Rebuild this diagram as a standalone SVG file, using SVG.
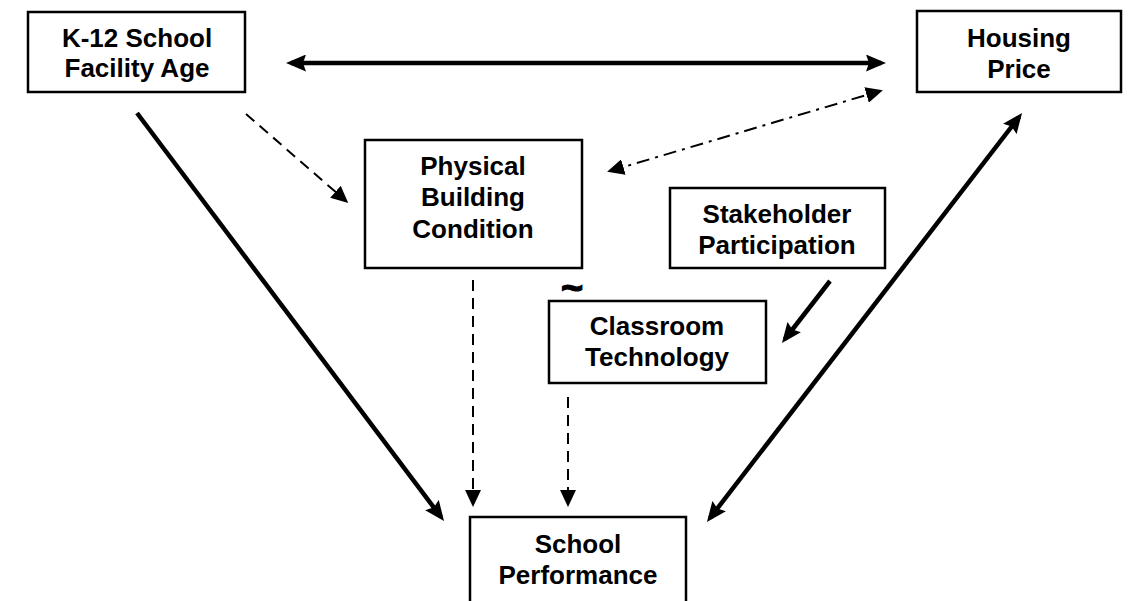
<svg xmlns="http://www.w3.org/2000/svg" width="1134" height="601" viewBox="0 0 1134 601">
<style>
.box{fill:#fff;stroke:#000;stroke-width:2.5}
.lbl{font-family:"Liberation Sans",Arial,sans-serif;font-weight:bold;font-size:26px;fill:#000;text-anchor:middle}
.solid{stroke:#000;stroke-width:4.5;fill:none}
.dash{stroke:#000;stroke-width:2;fill:none;stroke-dasharray:11,7}
.dashdot{stroke:#000;stroke-width:2;fill:none;stroke-dasharray:13,6,3,6}
</style>
<defs>
<marker id="big" markerUnits="userSpaceOnUse" markerWidth="20" markerHeight="17" refX="15" refY="8.5" orient="auto-start-reverse" viewBox="0 0 20 17">
<path d="M0,0 L20,8.5 L0,17 L3,8.5 z" fill="#000"/>
</marker>
<marker id="small" markerUnits="userSpaceOnUse" markerWidth="17" markerHeight="16" refX="14" refY="8" orient="auto-start-reverse" viewBox="0 0 17 16">
<path d="M0,0 L17,8 L0,16 z" fill="#000"/>
</marker>
</defs>
<g id="connectors">
<line class="solid" x1="291" y1="63" x2="881" y2="63" marker-start="url(#big)" marker-end="url(#big)"/>
<line class="solid" x1="137" y1="113" x2="441" y2="517" marker-end="url(#big)"/>
<line class="dash" x1="246" y1="114" x2="346" y2="201" marker-end="url(#small)"/>
<line class="dashdot" x1="610" y1="171" x2="880" y2="91" marker-start="url(#small)" marker-end="url(#small)"/>
<line class="dash" x1="473" y1="280" x2="473" y2="504" marker-end="url(#small)"/>
<line class="dash" x1="568" y1="397" x2="568" y2="504" marker-end="url(#small)"/>
<line class="solid" x1="830" y1="281" x2="785" y2="339" marker-end="url(#big)"/>
<line class="solid" x1="710" y1="518" x2="1019" y2="117" marker-start="url(#big)" marker-end="url(#big)"/>
</g>
<g id="k12">
<rect class="box" x="28" y="12" width="217" height="80"/>
<text class="lbl" x="137" y="47">K-12 School</text>
<text class="lbl" x="137" y="77">Facility Age</text>
</g>
<g id="housing">
<rect class="box" x="917" y="11" width="204" height="81"/>
<text class="lbl" x="1019" y="47">Housing</text>
<text class="lbl" x="1019" y="78">Price</text>
</g>
<g id="physical">
<rect class="box" x="365" y="140" width="217" height="128"/>
<text class="lbl" x="473" y="175">Physical</text>
<text class="lbl" x="473" y="206">Building</text>
<text class="lbl" x="473" y="238">Condition</text>
</g>
<g id="stakeholder">
<rect class="box" x="670" y="188" width="215" height="80"/>
<text class="lbl" x="777" y="223">Stakeholder</text>
<text class="lbl" x="777" y="254">Participation</text>
</g>
<g id="classroom">
<rect class="box" x="549" y="301" width="217" height="82"/>
<text class="lbl" x="657" y="335">Classroom</text>
<text class="lbl" x="657" y="366">Technology</text>
</g>
<g id="tilde">
<text class="lbl" x="572" y="301" style="font-size:38px;stroke:#000;stroke-width:1.2">~</text>
</g>
<g id="performance">
<rect class="box" x="470" y="517" width="216" height="100"/>
<text class="lbl" x="578" y="553">School</text>
<text class="lbl" x="578" y="584">Performance</text>
</g>
</svg>
